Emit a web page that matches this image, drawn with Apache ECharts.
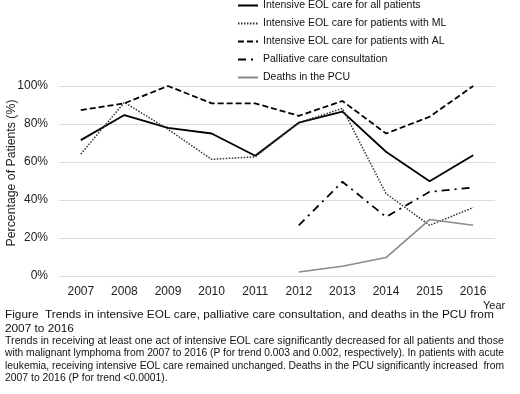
<!doctype html>
<html>
<head>
  <meta charset="utf-8">
  <title>Trends in intensive EOL care</title>
  <script src="https://cdn.jsdelivr.net/npm/echarts@6/dist/echarts.min.js"></script>
  <style>
    html, body { margin: 0; padding: 0; background: #fff; }
    #main { width: 520px; height: 394px; }
  </style>
</head>
<body>
  <div id="main"></div>
  <script type="text/javascript">
    var years = ['2007', '2008', '2009', '2010', '2011', '2012', '2013', '2014', '2015', '2016'];
    var allPatients = [71.5, 84.7, 78, 75, 63.3, 80.7, 86.5, 65.4, 49.9, 63.6];
    var mlPatients = [64.2, 91.4, 77.2, 61.4, 62.7, 80.7, 88.2, 43.4, 26.7, 36];
    var alPatients = [87.3, 90.9, 100, 90.9, 90.9, 84.3, 92.1, 75, 83.8, 100];
    var palliative = [null, null, null, null, null, 26.7, 49.6, 31.1, 44.3, 46.6];
    var pcuDeaths = [null, null, null, null, null, 2.1, 5.1, 9.7, 29.7, 26.7];
    var seriesNames = [
      'Intensive EOL care for all patients',
      'Intensive EOL care for patients with ML',
      'Intensive EOL care for patients with AL',
      'Palliative care consultation',
      'Deaths in the PCU'
    ];
    var captionTitle = ['Figure  Trends in intensive EOL care, palliative care consultation, and deaths in the PCU from', '2007 to 2016'];
    var captionBody = [
      'Trends in receiving at least one act of intensive EOL care significantly decreased for all patients and those',
      'with malignant lymphoma from 2007 to 2016 (P for trend 0.003 and 0.002, respectively). In patients with acute',
      'leukemia, receiving intensive EOL care remained unchanged. Deaths in the PCU significantly increased  from',
      '2007 to 2016 (P for trend <0.0001).'
    ];

    var font = 'Liberation Sans, Arial, sans-serif';

    // measure text so justified caption lines can be stretched to full width
    var ctx = document.createElement('canvas').getContext('2d');
    function textWidth(t, f) {
      ctx.font = f;
      return ctx.measureText(t).width;
    }

    function lineSeries(name, data, color, width, type) {
      return {
        name: name,
        type: 'line',
        data: data,
        symbol: 'none',
        lineStyle: { color: color, width: width, type: type },
        itemStyle: { color: color },
        emphasis: { disabled: true }
      };
    }

    var graphics = [
      { type: 'text', left: 483, top: 300, style: { text: 'Year', font: '11px ' + font, fill: '#222' } },
      {
        type: 'text', x: 12, y: 173, rotation: Math.PI / 2,
        style: { text: 'Percentage of Patients (%)', font: '12.3px ' + font, fill: '#222', align: 'center', verticalAlign: 'middle' }
      }
    ];
    var titleFont = '11.8px ' + font;
    captionTitle.forEach(function (t, i) {
      graphics.push({ type: 'text', x: 5, y: 315 + i * 13.5, style: { text: t, font: titleFont, fill: '#111', verticalAlign: 'middle' } });
    });
    var bodyFont = '10.4px ' + font;
    captionBody.forEach(function (t, i) {
      var sx = 1;
      if (i < captionBody.length - 1) sx = 499 / textWidth(t, bodyFont);
      graphics.push({
        type: 'text', x: 5, y: 341 + i * 12.4, scaleX: sx,
        style: { text: t, font: bodyFont, fill: '#111', verticalAlign: 'middle' }
      });
    });

    var option = {
      animation: false,
      textStyle: { fontFamily: font },
      grid: { left: 59, right: 25, top: 86, bottom: 118 },
      legend: {
        orient: 'vertical',
        left: 237,
        top: 0,
        padding: 0,
        itemWidth: 20,
        itemHeight: 10,
        itemGap: 7,
        itemStyle: { opacity: 0 },
        textStyle: { fontSize: 10.5, color: '#111' },
        data: seriesNames
      },
      xAxis: {
        type: 'category',
        data: years,
        boundaryGap: true,
        axisLine: { show: false },
        axisTick: { show: false },
        axisLabel: { fontSize: 12, color: '#222', margin: 10 }
      },
      yAxis: {
        type: 'value',
        min: 0,
        max: 100,
        interval: 20,
        axisLabel: { fontSize: 12, color: '#222', margin: 11, formatter: '{value}%' },
        splitLine: { lineStyle: { color: '#dcdcdc', width: 1.2 } }
      },
      graphic: graphics,
      series: [
        lineSeries(seriesNames[0], allPatients, '#000', 1.8, 'solid'),
        lineSeries(seriesNames[1], mlPatients, '#333', 1.5, [1.5, 1.5]),
        lineSeries(seriesNames[2], alPatients, '#000', 1.8, [6, 3]),
        lineSeries(seriesNames[3], palliative, '#000', 1.8, [8, 5, 2, 5]),
        lineSeries(seriesNames[4], pcuDeaths, '#8a8a8a', 1.6, 'solid')
      ]
    };

    var myChart = echarts.init(document.getElementById('main'));
    myChart.setOption(option);
  </script>
</body>
</html>
